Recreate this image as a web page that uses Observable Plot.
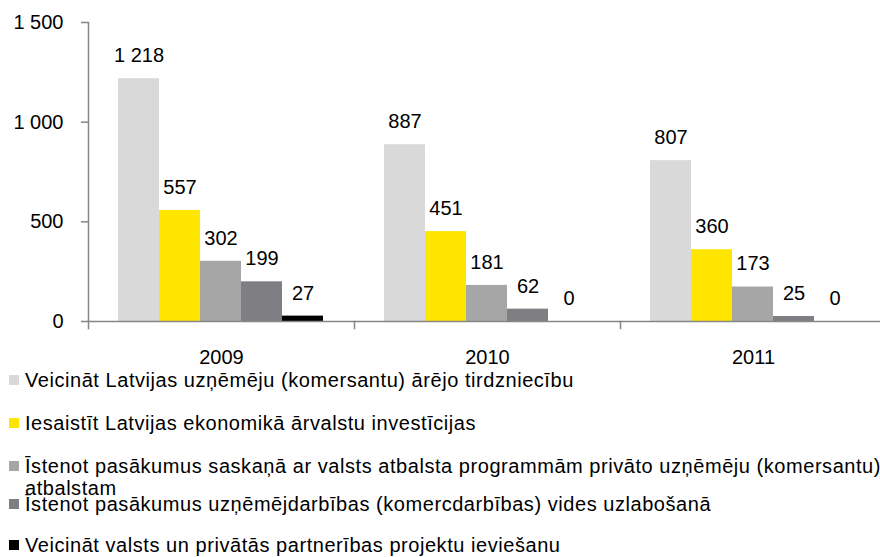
<!DOCTYPE html>
<html>
<head>
<meta charset="utf-8">
<script src="https://cdn.jsdelivr.net/npm/d3@7"></script>
<script src="https://cdn.jsdelivr.net/npm/@observablehq/plot@0.6"></script>
<style>
  html, body { margin: 0; padding: 0; background: #fff; overflow: hidden; }
  #wrap { position: relative; width: 880px; height: 557px; font-family: "Liberation Sans", Arial, sans-serif; color: #000; }
  #legend { position: absolute; left: 0; top: 0; width: 880px; height: 557px; overflow: hidden; pointer-events: none; }
  .item { position: absolute; left: 0; width: 1000px; font-size: 20px; line-height: 22px; letter-spacing: 0.55px; white-space: nowrap; }
  .sw { position: absolute; left: 9px; width: 10px; height: 10px; top: 6px; }
  .lbl { position: absolute; left: 25px; top: 0; }
</style>
</head>
<body>
<div id="wrap"><div id="chart"></div><div id="legend"></div></div>
<script>
const years = ["2009", "2010", "2011"];
const seriesNames = [
  "Veicināt Latvijas uzņēmēju (komersantu) ārējo tirdzniecību",
  "Iesaistīt Latvijas ekonomikā ārvalstu investīcijas",
  "Īstenot pasākumus saskaņā ar valsts atbalsta programmām privāto uzņēmēju (komersantu) atbalstam",
  "Īstenot pasākumus uzņēmējdarbības (komercdarbības) vides uzlabošanā",
  "Veicināt valsts un privātās partnerības projektu ieviešanu"
];
const legendLines = [
  ["Veicināt Latvijas uzņēmēju (komersantu) ārējo tirdzniecību"],
  ["Iesaistīt Latvijas ekonomikā ārvalstu investīcijas"],
  ["Īstenot pasākumus saskaņā ar valsts atbalsta programmām privāto uzņēmēju (komersantu)", "atbalstam"],
  ["Īstenot pasākumus uzņēmējdarbības (komercdarbības) vides uzlabošanā"],
  ["Veicināt valsts un privātās partnerības projektu ieviešanu"]
];
const series1 = [1218, 887, 807];
const series2 = [557, 451, 360];
const series3 = [302, 181, 173];
const series4 = [199, 62, 25];
const series5 = [27, 0, 0];
const colors = ["#D9D9D9", "#FFE500", "#A6A6A6", "#7F7F83", "#000000"];
const yTicks = [0, 500, 1000, 1500];

const allSeries = [series1, series2, series3, series4, series5];
const data = years.flatMap((yr, i) => seriesNames.map((s, j) => ({year: yr, series: s, value: allSeries[j][i]})));

const fmt = d3.formatLocale({decimal: ",", thousands: "\u00a0", grouping: [3], currency: ["", ""]}).format(",");

const H = 368, MT = 22, MB = 47;
const chart = Plot.plot({
  width: 880,
  height: H,
  marginTop: MT,
  marginBottom: MB,
  marginLeft: 87,
  marginRight: -6,
  fx: {domain: years, padding: 0, label: null},
  x: {domain: seriesNames, paddingInner: 0, paddingOuter: 0.74, axis: null},
  y: {domain: [0, 1500], label: null},
  color: {domain: seriesNames, range: colors},
  style: {fontFamily: "'Liberation Sans', Arial, sans-serif", fontSize: "20px", color: "#000", background: "#fff"},
  marks: [
    Plot.barY(data, {fx: "year", x: "series", y: "value", fill: "series", dx: -1}),
    Plot.ruleY([0], {stroke: "#868686", strokeWidth: 1.5}),
    Plot.frame({anchor: "left", facetAnchor: "left", stroke: "#868686", strokeWidth: 1.5}),
    Plot.frame({anchor: "left", stroke: "#868686", strokeWidth: 1.5, insetTop: H - MT - MB, insetBottom: -7}),
    Plot.axisY({ticks: yTicks, tickFormat: fmt, tickSize: 7, tickPadding: 18, stroke: "#868686", strokeWidth: 1.5, fill: "#000", label: null, fontSize: 20}),
    Plot.axisFx({anchor: "bottom", tickSize: 0, tickPadding: 28, label: null, fontSize: 20, fill: "#000"}),
    Plot.text(data, {fx: "year", x: "series", y: "value", text: d => fmt(d.value), dy: -23, dx: -1, fontSize: 20, fill: "#000"})
  ]
});
document.getElementById("chart").appendChild(chart);

// legend rows (top of each row in px)
const rowTops = [369, 412, 455, 493, 534];
const legend = document.getElementById("legend");
legendLines.forEach((lines, i) => {
  const item = document.createElement("div");
  item.className = "item";
  item.style.top = rowTops[i] + "px";
  const sw = document.createElement("div");
  sw.className = "sw";
  sw.style.background = colors[i];
  const lbl = document.createElement("div");
  lbl.className = "lbl";
  lbl.innerHTML = lines.map(t => t.replace(/&/g, "&amp;").replace(/</g, "&lt;")).join("<br>");
  item.appendChild(sw);
  item.appendChild(lbl);
  legend.appendChild(item);
});
</script>
</body>
</html>
